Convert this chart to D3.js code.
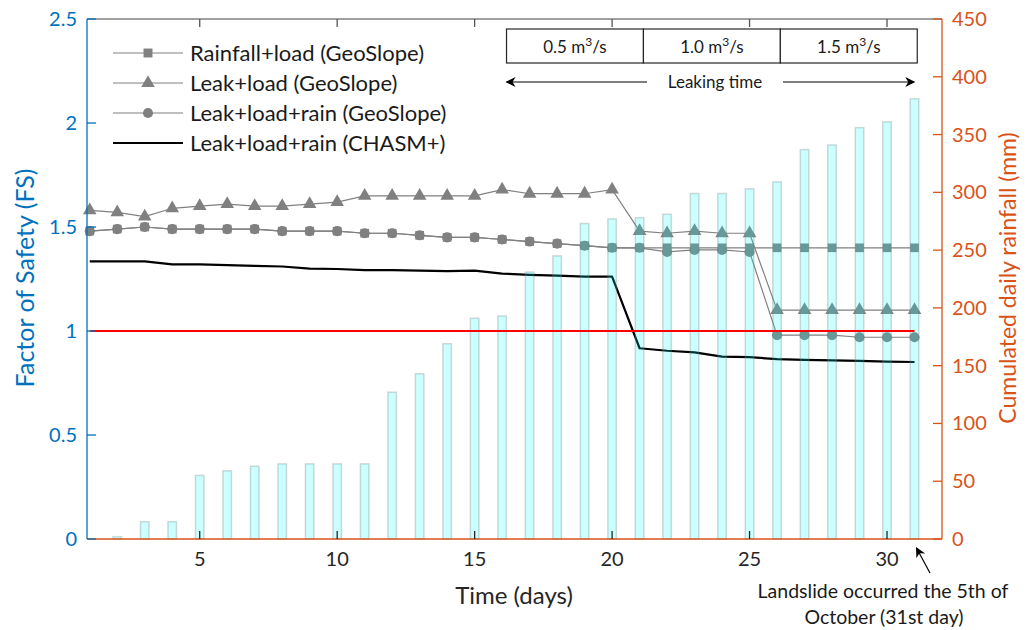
<!DOCTYPE html>
<html><head><meta charset="utf-8">
<script src="https://cdn.jsdelivr.net/npm/d3@7"></script>
<style>
body{margin:0;background:#fff;}
text{font-family:Lato,"Noto Sans",sans-serif;}
</style></head>
<body><svg id="c" width="1027" height="630"></svg>
<script>
const days = [1,2,3,4,5,6,7,8,9,10,11,12,13,14,15,16,17,18,19,20,21,22,23,24,25,26,27,28,29,30,31];
const rainfall = [0,2,15,15,55,59,63,65,65,65,65,127,143,169,191,193,231,245,273,277,278,281,299,299,303,309,337,341,356,361,381];
const fsRainLoad = [1.48,1.49,1.50,1.49,1.49,1.49,1.49,1.48,1.48,1.48,1.47,1.47,1.46,1.45,1.45,1.44,1.43,1.42,1.41,1.40,1.40,1.40,1.40,1.40,1.40,1.40,1.40,1.40,1.40,1.40,1.40];
const fsLeakLoad = [1.58,1.57,1.55,1.59,1.60,1.61,1.60,1.60,1.61,1.62,1.65,1.65,1.65,1.65,1.65,1.68,1.66,1.66,1.66,1.68,1.48,1.47,1.48,1.47,1.47,1.10,1.10,1.10,1.10,1.10,1.10];
const fsLeakLoadRain = [1.48,1.49,1.50,1.49,1.49,1.49,1.49,1.48,1.48,1.48,1.47,1.47,1.46,1.45,1.45,1.44,1.43,1.42,1.41,1.40,1.40,1.38,1.39,1.39,1.38,0.98,0.98,0.98,0.97,0.97,0.97];
const fsChasm = [1.335,1.335,1.335,1.32,1.32,1.317,1.313,1.31,1.30,1.298,1.293,1.293,1.29,1.288,1.29,1.276,1.27,1.266,1.261,1.261,0.917,0.905,0.897,0.877,0.874,0.865,0.861,0.859,0.856,0.853,0.851];
const threshold = 1;
const xTicks = [5,10,15,20,25,30];
const yLeftTicks = [0,0.5,1,1.5,2,2.5];
const yRightTicks = [0,50,100,150,200,250,300,350,400,450];
const legendLabels = ["Rainfall+load (GeoSlope)","Leak+load (GeoSlope)","Leak+load+rain (GeoSlope)","Leak+load+rain (CHASM+)"];
const flowLabels = ["0.5","1.0","1.5"];
const flowBounds = [[16.16,21.14],[21.14,26.12],[26.12,31.1]];

const svg = d3.select("#c");
const L=87, R=942, T=19, B=539;
const x = d3.scaleLinear().domain([0.9,32]).range([L,R]);
const yL = d3.scaleLinear().domain([0,2.5]).range([B,T]);
const yR = d3.scaleLinear().domain([0,450]).range([B,T]);
const blue="#0072BD", orange="#D95319", grey="#808080", dark="#262626";

// series lines
const g = svg.append("g");
function series(vals, sym, size){
  const line = d3.line().x((d,i)=>x(days[i])).y(d=>yL(d));
  g.append("path").attr("d", line(vals)).attr("fill","none").attr("stroke",grey).attr("stroke-width",1.2);
  g.append("g").selectAll("path").data(vals).join("path")
    .attr("transform",(d,i)=>`translate(${x(days[i])},${yL(d)})`)
    .attr("d", d3.symbol().type(sym).size(size)()).attr("fill",grey);
}
series(fsLeakLoadRain, d3.symbolCircle, 80);
series(fsLeakLoad, d3.symbolTriangle, 80);
series(fsRainLoad, d3.symbolSquare, 75);
g.append("path").attr("d", d3.line().x((d,i)=>x(days[i])).y(d=>yL(d))(fsChasm))
  .attr("fill","none").attr("stroke","#000").attr("stroke-width",2.2).attr("stroke-linejoin","round");

// bars (semi-transparent, drawn over)
const bw = 8.5;
svg.append("g").selectAll("rect").data(rainfall).join("rect")
  .attr("x",(d,i)=>x(days[i])-bw/2).attr("width",bw)
  .attr("y",d=>yR(d)).attr("height",d=>B-yR(d))
  .attr("fill","rgb(0,255,255)").attr("fill-opacity",0.2)
  .attr("stroke","rgb(110,130,130)").attr("stroke-opacity",0.3).attr("stroke-width",1.5);

// threshold
svg.append("line").attr("x1",x(days[0])).attr("x2",x(days[days.length-1]))
  .attr("y1",yL(threshold)).attr("y2",yL(threshold)).attr("stroke","#ff0000").attr("stroke-width",2);

// axes frame
svg.append("line").attr("x1",L).attr("x2",R).attr("y1",T).attr("y2",T).attr("stroke",grey).attr("stroke-width",1.3);
svg.append("line").attr("x1",L).attr("x2",R).attr("y1",B).attr("y2",B).attr("stroke",orange).attr("stroke-width",1.3);
svg.append("line").attr("x1",L).attr("x2",L).attr("y1",T).attr("y2",B).attr("stroke",blue).attr("stroke-width",1.3);
svg.append("line").attr("x1",R).attr("x2",R).attr("y1",T).attr("y2",B).attr("stroke",orange).attr("stroke-width",1.3);

// x ticks
xTicks.forEach(t=>{
  svg.append("line").attr("x1",x(t)).attr("x2",x(t)).attr("y1",B).attr("y2",B-8).attr("stroke",dark).attr("stroke-width",1.3);
  svg.append("line").attr("x1",x(t)).attr("x2",x(t)).attr("y1",T).attr("y2",T+8).attr("stroke","#555").attr("stroke-width",1.3);
  svg.append("text").attr("x",x(t)).attr("y",566).attr("text-anchor","middle").attr("font-size",20).attr("fill",dark).text(t);
});
yLeftTicks.forEach(t=>{
  svg.append("line").attr("x1",L).attr("x2",L+9).attr("y1",yL(t)).attr("y2",yL(t)).attr("stroke",blue).attr("stroke-width",1.3);
  svg.append("text").attr("x",77).attr("y",yL(t)+7).attr("text-anchor","end").attr("font-size",20).attr("fill",blue).text(t);
});
yRightTicks.forEach(t=>{
  svg.append("line").attr("x1",R).attr("x2",R-9).attr("y1",yR(t)).attr("y2",yR(t)).attr("stroke",orange).attr("stroke-width",1.3);
  svg.append("text").attr("x",952).attr("y",yR(t)+7).attr("text-anchor","start").attr("font-size",20).attr("fill",orange).text(t);
});

// axis titles
svg.append("text").attr("x",514).attr("y",604).attr("text-anchor","middle").attr("font-size",24).attr("fill",dark).text("Time (days)");
svg.append("text").attr("transform","translate(34,278) rotate(-90)").attr("text-anchor","middle").attr("font-size",25).attr("fill",blue).text("Factor of Safety (FS)");
svg.append("text").attr("transform","translate(1016,278) rotate(-90)").attr("text-anchor","middle").attr("font-size",23).attr("fill",orange).text("Cumulated daily rainfall (mm)");

// legend
const lg = svg.append("g");
const legY = [53,83,113,143];
const syms = [d3.symbolSquare, d3.symbolTriangle, d3.symbolCircle, null];
legendLabels.forEach((lab,i)=>{
  const isBlack = i===3;
  lg.append("line").attr("x1",113).attr("x2",183).attr("y1",legY[i]).attr("y2",legY[i])
    .attr("stroke",isBlack?"#000":grey).attr("stroke-width",isBlack?2.2:1.2);
  if(syms[i]) lg.append("path").attr("transform",`translate(148,${legY[i]})`).attr("d",d3.symbol().type(syms[i]).size(80)()).attr("fill",grey);
  lg.append("text").attr("x",190).attr("y",legY[i]+8).attr("font-size",22).attr("fill","#1a1a1a").text(lab);
});

// flow boxes
const bxT=29, bxB=63;
flowLabels.forEach((lab,i)=>{
  const x0=x(flowBounds[i][0]), x1=x(flowBounds[i][1]);
  svg.append("rect").attr("x",x0).attr("y",bxT).attr("width",x1-x0).attr("height",bxB-bxT)
    .attr("fill","#fff").attr("stroke","#262626").attr("stroke-width",1.2);
  const t = svg.append("text").attr("x",(x0+x1)/2).attr("y",53).attr("text-anchor","middle").attr("font-size",17).attr("fill","#1a1a1a");
  t.append("tspan").text(lab+" m");
  t.append("tspan").attr("dy",-7).attr("font-size",12).text("3");
  t.append("tspan").attr("dy",7).text("/s");
});
// leaking time arrows
const defs = svg.append("defs");
defs.append("marker").attr("id","ah").attr("viewBox","0 0 10 10").attr("refX",9).attr("refY",5)
  .attr("markerWidth",12).attr("markerHeight",10).attr("markerUnits","userSpaceOnUse").attr("orient","auto")
  .append("path").attr("d","M0,0 L10,5 L0,10 L3,5 Z").attr("fill","#000");
svg.append("line").attr("x1",647).attr("x2",x(flowBounds[0][0])).attr("y1",82).attr("y2",82).attr("stroke","#000").attr("stroke-width",1.2).attr("marker-end","url(#ah)");
svg.append("line").attr("x1",783).attr("x2",x(flowBounds[2][1])-3).attr("y1",82).attr("y2",82).attr("stroke","#000").attr("stroke-width",1.2).attr("marker-end","url(#ah)");
svg.append("text").attr("x",715).attr("y",88).attr("text-anchor","middle").attr("font-size",17).attr("fill","#1a1a1a").text("Leaking time");

// landslide annotation
svg.append("line").attr("x1",930).attr("y1",573).attr("x2",x(31)+2).attr("y2",548).attr("stroke","#000").attr("stroke-width",1.2).attr("marker-end","url(#ah)");
svg.append("text").attr("x",883).attr("y",598).attr("text-anchor","middle").attr("font-size",19.5).attr("fill","#1a1a1a").text("Landslide occurred the 5th of");
svg.append("text").attr("x",884).attr("y",624).attr("text-anchor","middle").attr("font-size",19.5).attr("fill","#1a1a1a").text("October (31st day)");
</script></body></html>
